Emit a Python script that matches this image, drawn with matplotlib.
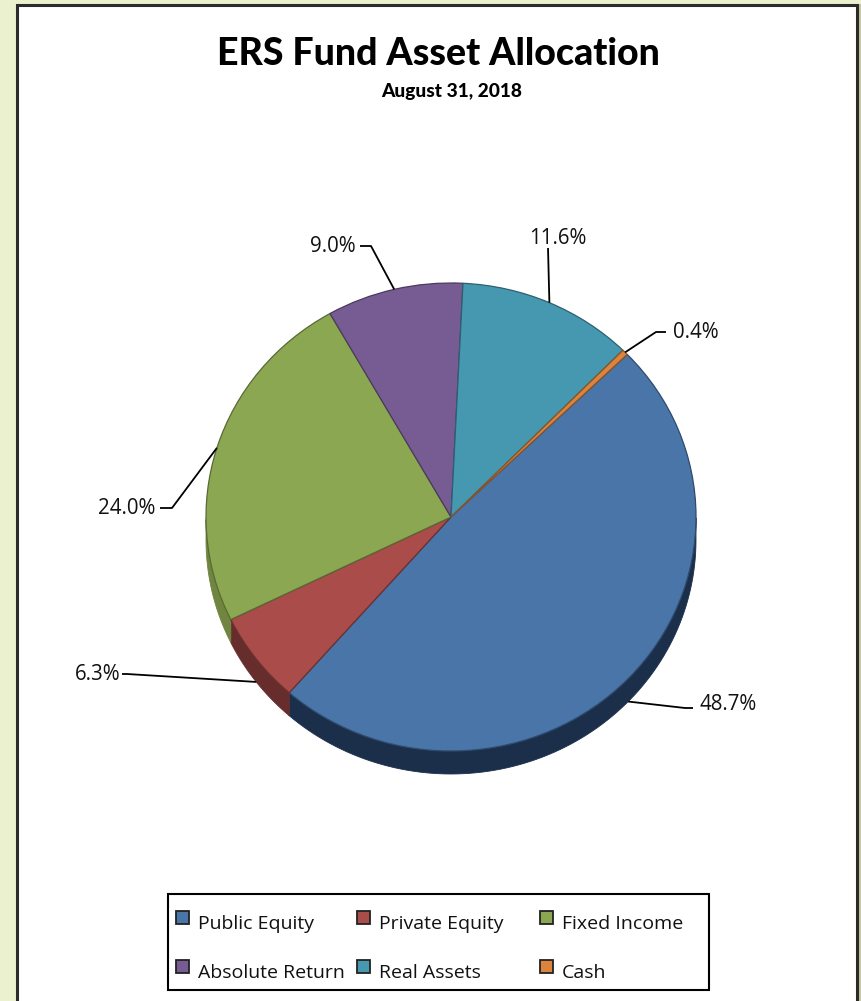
import numpy as np
import matplotlib
matplotlib.use("Agg")
import matplotlib.pyplot as plt
from matplotlib.patches import Polygon, Rectangle

W, H = 861, 1001
CX, CY, RX, RY = 451, 517, 245, 234
DEPTH = 23 / RY
START = 44.0

categories = ["Public Equity", "Private Equity", "Fixed Income",
              "Absolute Return", "Real Assets", "Cash"]
shares = [48.7, 6.3, 24.0, 9.0, 11.6, 0.4]
top_colors = ["#4A75A9", "#A94C4A", "#8CA752", "#775C93", "#4698B0", "#DB843D"]
side_colors = ["#1B2F4B", "#662D2C", "#6F8540", "#4A3A5C", "#2A5F6F", "#8A5226"]
edge_colors = ["#2E4A6C", "#6B302F", "#586A34", "#4B3A5D", "#2C6070", "#8A5327"]
# label text position and elbow of the leader, in pixels
label_pos = [(700, 705), (120, 675), (155, 508), (356, 246), (558, 238), (673, 332)]
elbows = [[(685, 708), (693, 708)], [(127, 674), (122, 674)], [(172, 508), (160, 508)],
          [(371, 246), (360, 246)], [(548, 248)], [(656, 332), (666, 332)]]
label_align = ["left", "right", "right", "right", "center", "left"]
# legend swatch corners, in pixels
legend_x = [176, 357, 540]
legend_y = [911, 960]


def px(x, y):
    return (x - CX) / RX, (CY - y) / RY


def box(ax, x, y, w, h, **kw):
    # x, y is the top left corner in pixels
    ax.add_patch(Rectangle(px(x, y + h), w / RX, h / RY, **kw))


fig = plt.figure(figsize=(W / 100, H / 100), dpi=100, facecolor="#EBF0CF")
ax = fig.add_axes([0, 0, 1, 1])

wedges, _ = ax.pie(shares, startangle=START, counterclock=False, colors=top_colors,
                   radius=1, wedgeprops={"linewidth": 0.9})
for w, c in zip(wedges, edge_colors):
    w.set_edgecolor(c)
    w.set_zorder(4)

ax.set_aspect("auto")
ax.set_xlim(px(0, 0)[0], px(W, 0)[0])
ax.set_ylim(px(0, H)[1], px(0, 0)[1])
ax.axis("off")

# panel behind the pie
box(ax, 858, 4, W - 858, H, fc="#C6C8A2", ec="none", zorder=0)
box(ax, 17, 5, 840, H + 10, fc="white", ec="#2B2B2B", lw=2.2, zorder=1)

# side wall of the pie, only the lower half shows
angle = START
mids = []
for share, col in zip(shares, side_colors):
    sweep = share * 3.6
    mids.append(angle - sweep / 2)
    t = np.radians(np.linspace(angle, angle - sweep, 120))
    t = t[np.sin(t) <= 0]
    if len(t) > 1:
        xs, ys = np.cos(t), np.sin(t)
        pts = np.r_[np.c_[xs, ys], np.c_[xs, ys - DEPTH][::-1]]
        ax.add_patch(Polygon(pts, closed=True, fc=col, ec=col, lw=0.6, zorder=3))
    angle -= sweep

# leader lines and percentage labels
for i, share in enumerate(shares):
    a = np.radians(mids[i])
    ax_x, ax_y = np.cos(a), np.sin(a)
    if ax_y < 0:
        ax_y -= DEPTH
    path = [(ax_x, ax_y)] + [px(*p) for p in elbows[i]]
    ax.plot(*zip(*path), color="black", lw=1.3, zorder=5, solid_capstyle="butt")
    lx, ly = px(*label_pos[i])
    ax.text(lx, ly, f"{share:.1f}%", ha=label_align[i], va="center", fontsize=14.8,
            family="Open Sans", color="#111111", zorder=6)

tx, ty = px(438, 54)
ax.text(tx, ty, "ERS Fund Asset Allocation", ha="center", va="center", fontsize=27,
        family="Lato", weight="black", color="black", zorder=6)
tx, ty = px(452, 91)
ax.text(tx, ty, "August 31, 2018", ha="center", va="center", fontsize=13.8,
        family="Lato", weight="black", color="black", zorder=6)

# legend box, two rows of three
box(ax, 168, 894, 541, 96, fc="white", ec="black", lw=1.5, zorder=6)
for i, name in enumerate(categories):
    sx = legend_x[i % 3]
    sy = legend_y[i // 3]
    box(ax, sx, sy, 13, 13, fc=top_colors[i], ec="#222222", lw=1.3, zorder=7)
    lx, ly = px(sx + 22, sy + 13)
    ax.text(lx, ly, name, ha="left", va="center", fontsize=14.0,
            family="Open Sans", color="#111111", zorder=7)

fig.savefig("out.png", dpi=100, facecolor=fig.get_facecolor())
